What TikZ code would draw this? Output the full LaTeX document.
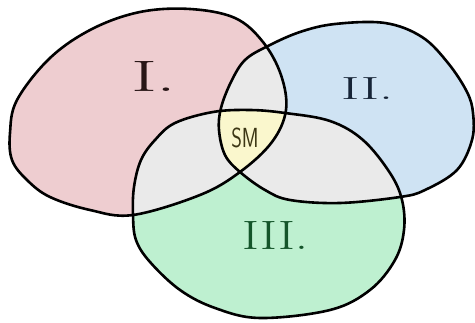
\documentclass[tikz,border=0pt]{standalone}
\usepackage{graphicx}
\definecolor{pinkI}{RGB}{238,205,208}
\definecolor{blueII}{RGB}{207,227,243}
\definecolor{greenIII}{RGB}{190,240,208}
\definecolor{overlap}{RGB}{234,234,234}
\definecolor{smyellow}{RGB}{250,247,205}
\definecolor{txtI}{RGB}{40,22,22}
\definecolor{txtII}{RGB}{22,36,54}
\definecolor{txtIII}{RGB}{20,85,42}
\definecolor{txtSM}{RGB}{60,54,20}
\tikzset{
  outline/.style={draw=black, line width=2.6pt, line join=round},
  lbl/.style={inner sep=0pt, outer sep=0pt}
}
\def\pathI{plot[smooth cycle, tension=0.6] coordinates {(17,100) (10,133) (12,160) (27,180) (50,197) (90,210) (133,215) (200,195) (240,172) (272,142) (286,110) (281,75) (263,42) (235,18) (190,9) (140,12) (92,29) (50,58)}}
\def\pathII{plot[smooth cycle, tension=0.6] coordinates {(245,60) (231,82) (221,108) (219,130) (225,155) (240,172) (265,190) (290,200) (340,203) (400,197) (425,190) (457,170) (472,140) (473,113) (467,92) (448,63) (422,37) (385,23) (335,24) (300,32) (268,46)}}
\def\pathIII{plot[smooth cycle, tension=0.6] coordinates {(133,215) (134,187) (141,160) (155,140) (175,123) (213,112) (250,110) (285,113) (330,121) (363,140) (390,173) (402,200) (404,230) (395,260) (370,290) (330,310) (260,318) (215,308) (180,290) (150,262) (136,240)}}
\begin{document}
\begin{tikzpicture}[x=1pt,y=-1pt]
\useasboundingbox (0,0) rectangle (475,323);
% base fills
\fill[pinkI] \pathI;
\fill[blueII] \pathII;
\fill[greenIII] \pathIII;
% pairwise overlaps
\begin{scope}\clip \pathI; \fill[overlap] \pathII; \end{scope}
\begin{scope}\clip \pathI; \fill[overlap] \pathIII; \end{scope}
\begin{scope}\clip \pathII; \fill[overlap] \pathIII; \end{scope}
% triple overlap
\begin{scope}\clip \pathI; \clip \pathII; \fill[smyellow] \pathIII; \end{scope}
% outlines
\draw[outline] \pathI;
\draw[outline] \pathII;
\draw[outline] \pathIII;
% labels
\node[lbl, anchor=base west, text=txtI] (lI) at (131,92) {\scalebox{1.8}[1]{\fontsize{44}{44}\selectfont I.}};
\node[lbl, anchor=base west, text=txtII] (lII) at (341,100) {\scalebox{1.75}[1]{\fontsize{32}{32}\selectfont II.}};
\node[lbl, anchor=base west, text=txtIII] (lIII) at (242,250) {\scalebox{1.25}[1]{\fontsize{41}{41}\selectfont III.}};
\node[lbl, text=txtSM] (sm) at (245,138) {\scalebox{0.85}[1.15]{\fontsize{24}{24}\selectfont\sffamily SM}};
\end{tikzpicture}
\end{document}
